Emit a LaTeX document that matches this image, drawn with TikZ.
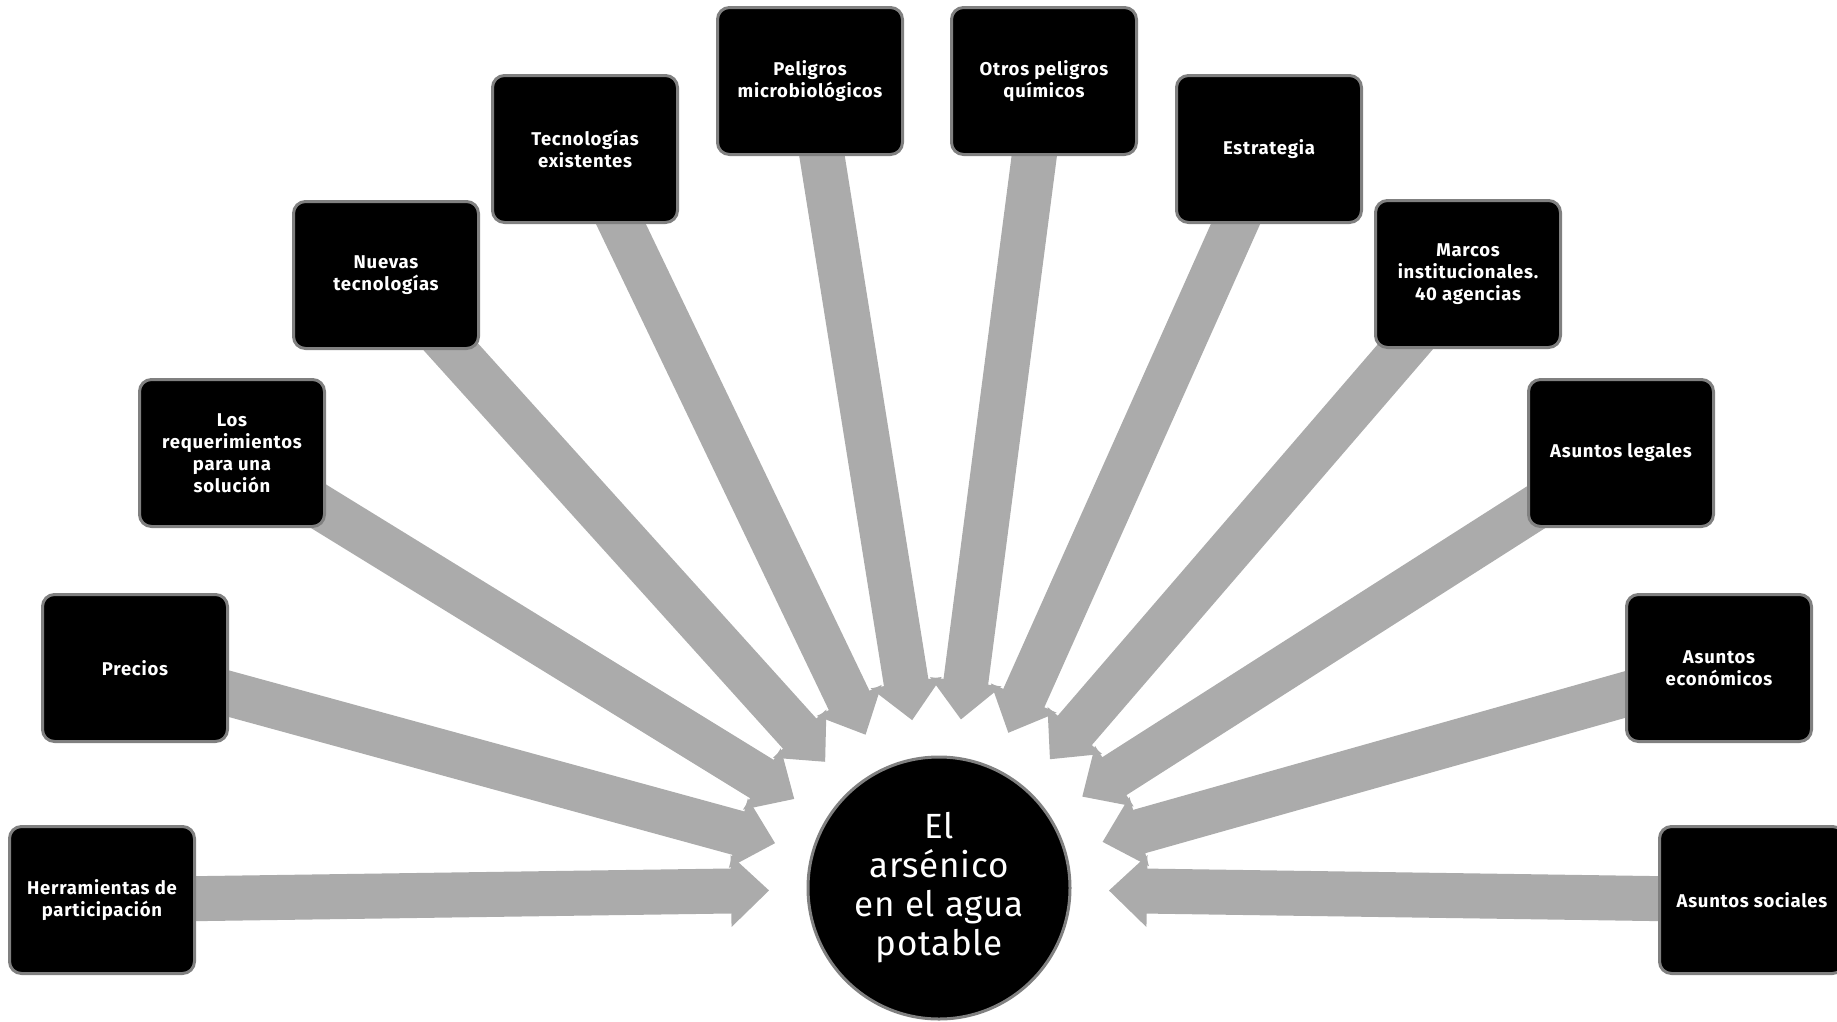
\documentclass[tikz,border=0pt]{standalone}
\usepackage{fontspec}
\setmainfont{Fira Sans}
\newfontfamily\topicfont{Fira Sans}[LetterSpace=4]
\newfontfamily\hubfont{Fira Sans}[LetterSpace=2]
\usetikzlibrary{calc}
\pgfdeclarelayer{bg}
\pgfsetlayers{bg,main}
\definecolor{arrowgray}{HTML}{ABABAB}
\definecolor{edgegray}{HTML}{808080}
\begin{document}
\begin{tikzpicture}[x=1pt,y=-1pt,
  topic/.style={draw=edgegray, line width=3pt, fill=black, rounded corners=12pt,
    minimum width=185pt, minimum height=147pt, text=white, align=center,
    inner sep=4pt, font=\topicfont\fontsize{18.5}{22}\selectfont\bfseries},
  hub/.style={circle, draw=edgegray, line width=3pt, fill=black,
    minimum size=262pt, inner sep=0pt, text=white, align=center,
    font=\hubfont\fontsize{35}{39}\selectfont},
  feed/.style={fill=arrowgray}]
\useasboundingbox (0,0) rectangle (1837,1021);

% central topic
\node[hub] (hub) at (939,888) {El\\arsénico\\en el agua\\potable};

% surrounding topics
\node[topic] (b1)  at (102,900)  {Herramientas de\\participación};
\node[topic] (b2)  at (135,668)  {Precios};
\node[topic] (b3)  at (232,453)  {Los\\requerimientos\\para una\\solución};
\node[topic] (b4)  at (386,275)  {Nuevas\\tecnologías};
\node[topic] (b5)  at (585,149)  {Tecnologías\\existentes};
\node[topic] (b6)  at (810,81)   {Peligros\\microbiológicos};
\node[topic] (b7)  at (1044,81)  {Otros peligros\\químicos};
\node[topic] (b8)  at (1269,149) {Estrategia};
\node[topic] (b9)  at (1468,274) {Marcos\\institucionales.\\40 agencias};
\node[topic] (b10) at (1621,453) {Asuntos legales};
\node[topic] (b11) at (1719,668) {Asuntos\\económicos};
\node[topic] (b12) at (1752,900) {Asuntos sociales};

% block arrows from every topic towards the hub
\begin{pgfonlayer}{bg}
\foreach \i in {1,...,12}{
  \coordinate (t\i) at ($(hub)!170pt!(b\i)$);
  \coordinate (h\i) at ($(t\i)!38pt!(b\i)$);
  \fill[feed] ($(b\i)!22.5pt!90:(t\i)$) -- ($(h\i)!22.5pt!90:(t\i)$)
    -- ($(h\i)!36pt!90:(t\i)$) -- (t\i) -- ($(h\i)!36pt!-90:(t\i)$)
    -- ($(h\i)!22.5pt!-90:(t\i)$) -- ($(b\i)!22.5pt!-90:(t\i)$) -- cycle;
}
\end{pgfonlayer}
\end{tikzpicture}
\end{document}
